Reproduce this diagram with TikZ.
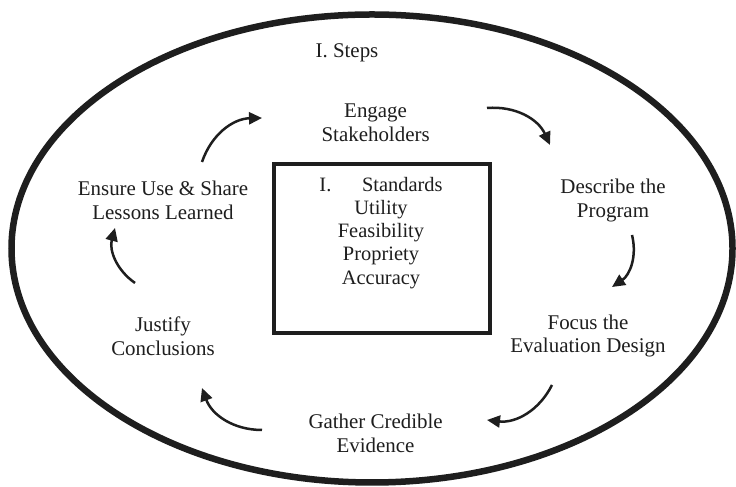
\documentclass[tikz,border=0pt]{standalone}
\usepackage{fontspec}
\setmainfont{Liberation Serif}
\usetikzlibrary{arrows.meta}
\definecolor{ink}{HTML}{1E1E1E}
\begin{document}
\begin{tikzpicture}[x=1bp,y=1bp,
  lbl/.style={align=center,font=\fontsize{21}{24}\selectfont,text=ink,inner sep=0pt},
  cyc/.style={line width=2.5bp,draw=ink,-{Triangle[length=13bp,width=12bp]},bend left=35}]
\useasboundingbox (0,0) rectangle (736,487);
\fill[white] (0,0) rectangle (736,487);
\draw[line width=6.5bp,draw=ink] (372,238.5) ellipse [x radius=360.5, y radius=234];
\node[draw=ink,line width=4bp,minimum width=216bp,minimum height=169bp,inner sep=0pt] (box) at (382,238.5) {};
\node[lbl,font=\fontsize{20.5}{23.2}\selectfont] (std) at (381,254) {I.\hspace{1.5em}Standards\\Utility\\Feasibility\\Propriety\\Accuracy};
\node[lbl] (steps) at (347,434) {I. Steps};
\node[lbl] (engage) at (375.6,364) {Engage\\Stakeholders};
\node[lbl] (describe) at (613,286.5) {Describe the\\Program};
\node[lbl] (focus) at (588,151) {Focus the\\Evaluation Design};
\node[lbl] (gather) at (375.6,54) {Gather Credible\\Evidence};
\node[lbl] (justify) at (163,151) {Justify\\Conclusions};
\node[lbl] (ensure) at (163,286.5) {Ensure Use \& Share\\Lessons Learned};
\coordinate (a1) at (202,325); \coordinate (b1) at (262,369);
\coordinate (a2) at (487,379); \coordinate (b2) at (550,342);
\coordinate (a3) at (632,252); \coordinate (b3) at (612,200);
\coordinate (a4) at (552,102); \coordinate (b4) at (487,67);
\coordinate (a5) at (262,57);  \coordinate (b5) at (202,99);
\coordinate (a6) at (135,204); \coordinate (b6) at (115,259);
\draw[cyc] (a1) to (b1);
\draw[cyc] (a2) to (b2);
\draw[cyc] (a3) to (b3);
\draw[cyc] (a4) to (b4);
\draw[cyc] (a5) to (b5);
\draw[cyc] (a6) to (b6);
\end{tikzpicture}
\end{document}
